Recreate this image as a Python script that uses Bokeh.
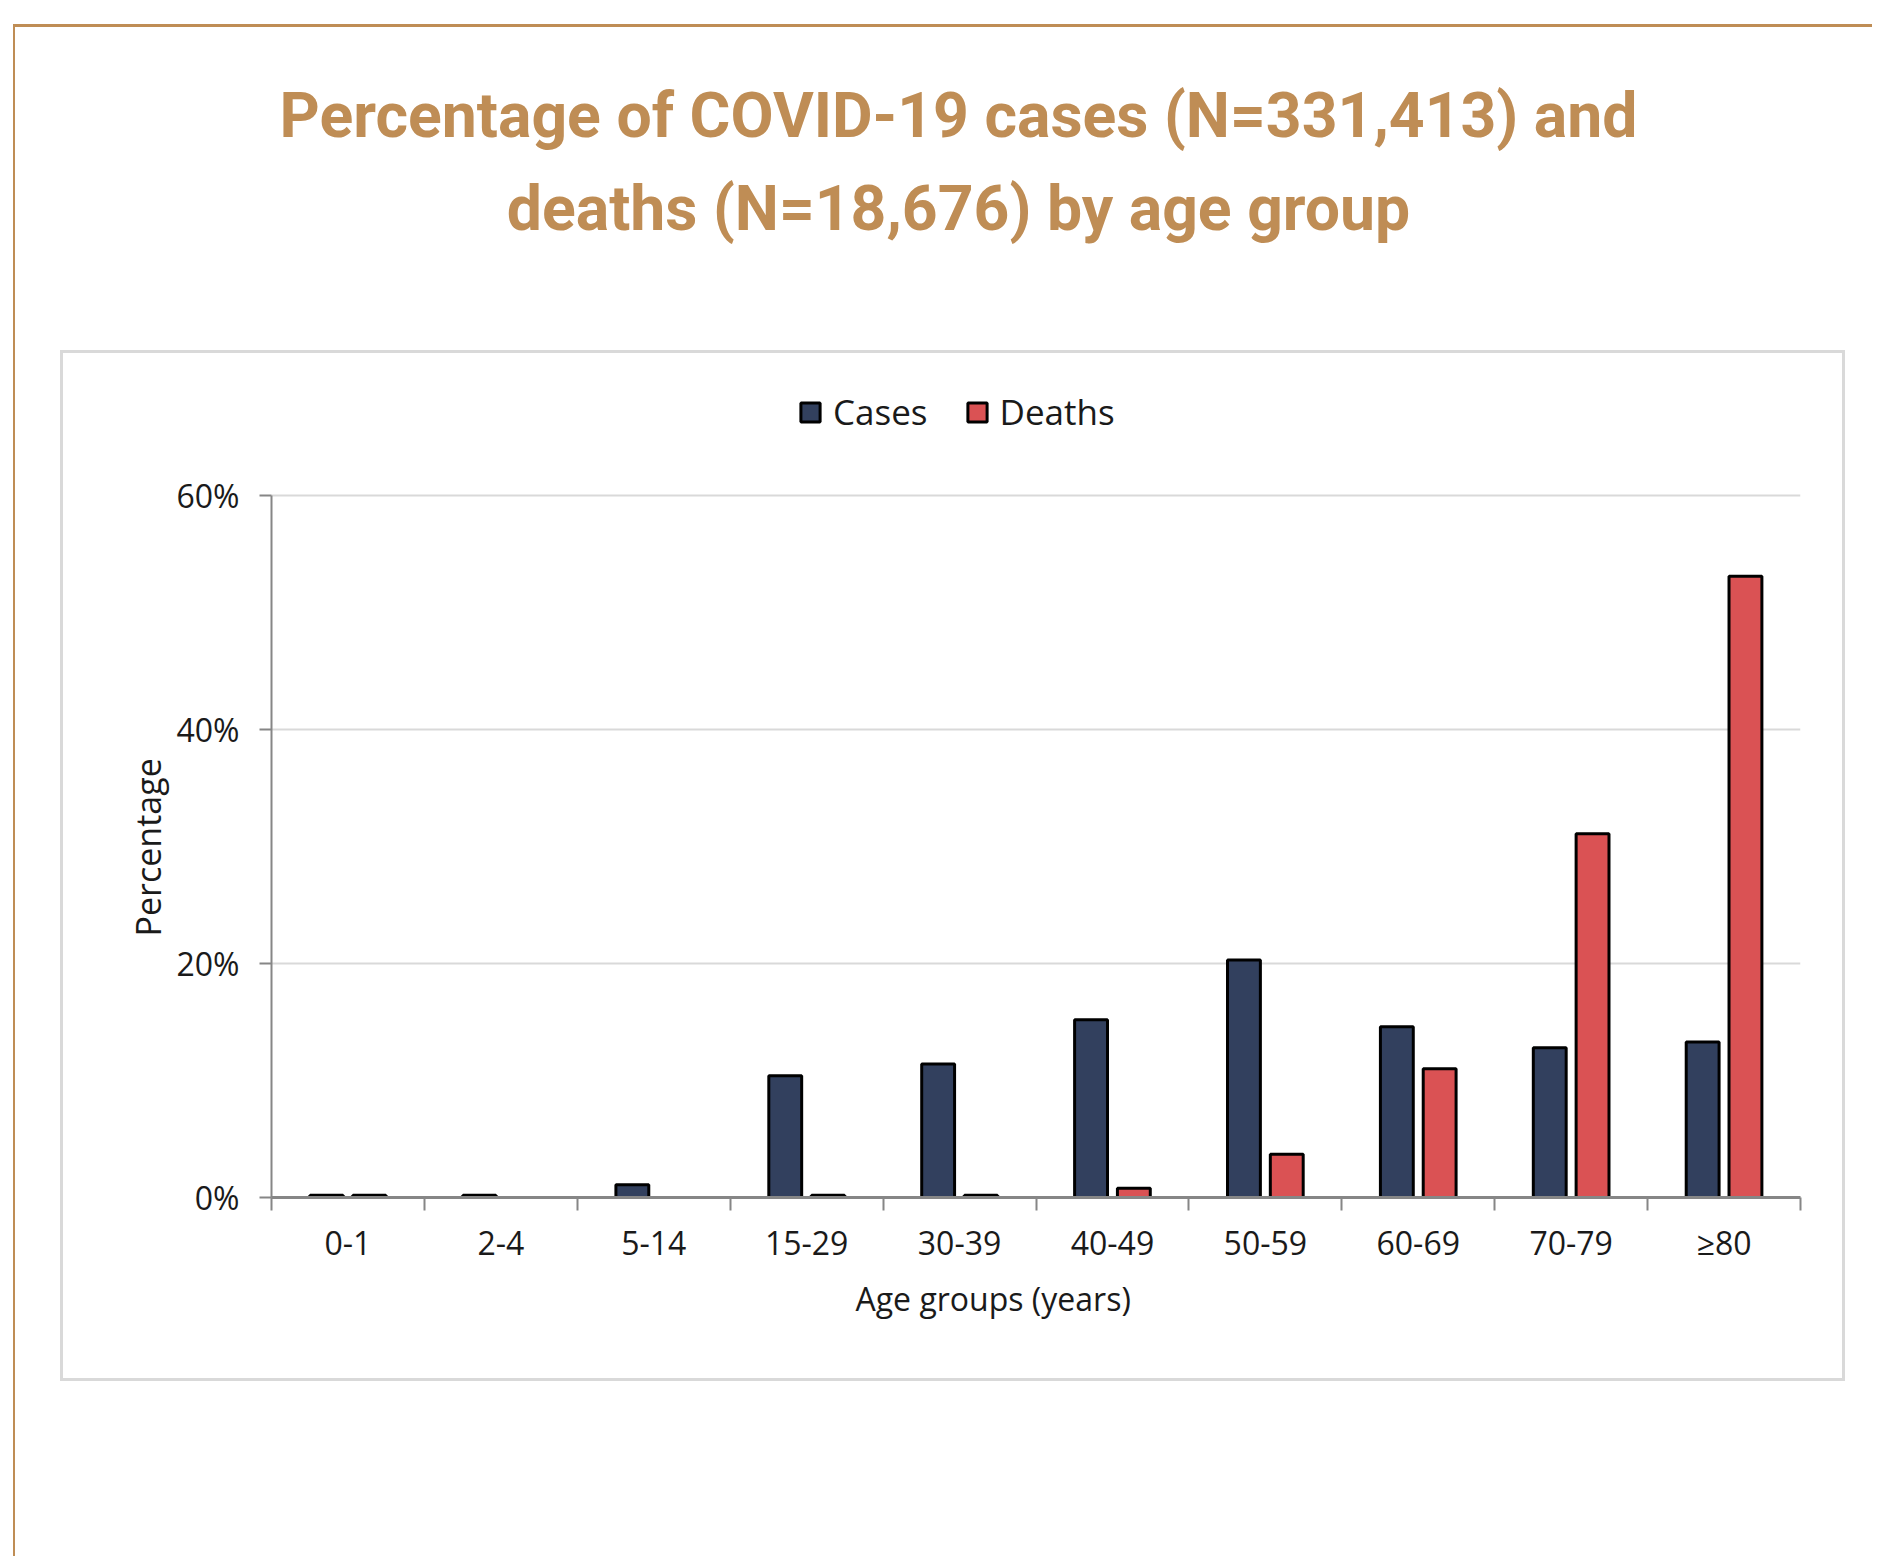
from bokeh.plotting import figure
from bokeh.models import (FactorRange, Range1d, LinearAxis, FixedTicker, Title, Label,
                          Legend, LegendItem, ColumnDataSource, PrintfTickFormatter,
                          InlineStyleSheet)
from bokeh.transform import dodge
from bokeh.embed import file_html
from bokeh.resources import INLINE

# ---- data (percent) ----
ages = ["0-1", "2-4", "5-14", "15-29", "30-39", "40-49", "50-59", "60-69", "70-79", "≥80"]
cases = [0.2, 0.2, 1.1, 10.4, 11.4, 15.2, 20.3, 14.6, 12.8, 13.3]
deaths = [0.2, 0.0, 0.0, 0.2, 0.2, 0.8, 3.7, 11.0, 31.1, 53.1]
y_ticks = [0, 20, 40, 60]
series_names = ["Cases", "Deaths"]
title_lines = ["Percentage of COVID-19 cases (N=331,413) and",
               "deaths (N=18,676) by age group"]
x_title = "Age groups (years)"
y_title = "Percentage"

CASES_COL = "#32405E"
DEATHS_COL = "#DA5254"
TAN = "#BF8D55"
AXIS_COL = "#868686"
GRID_COL = "#D9D9D9"
TXT = "#1a1a1a"

src = ColumnDataSource(dict(age=ages, cases=cases, deaths=deaths))

W, H = 1872, 1556
FL, FR, FT, FB = 271, 1800, 0, 1197   # frame edges in page pixels
Y60_PX = 495                          # page row of the 60% gridline
y_max_view = y_ticks[-1] * (FB - FT) / (FB - Y60_PX)   # headroom for title & legend

p = figure(x_range=FactorRange(factors=ages), y_range=Range1d(0, y_max_view),
           width=W, height=H, output_backend="svg", toolbar_location=None,
           min_border_left=FL, min_border_right=W - FR,
           min_border_top=FT, min_border_bottom=H - FB)
p.outline_line_color = None
p.background_fill_color = "white"
p.border_fill_color = "white"

r_cases = p.vbar(x=dodge("age", -0.14, range=p.x_range), top="cases", width=0.215,
                 source=src, fill_color=CASES_COL, line_color="black", line_width=3)
r_deaths = p.vbar(x=dodge("age", 0.14, range=p.x_range), top="deaths", width=0.215,
                  source=src, fill_color=DEATHS_COL, line_color="black", line_width=3)

# y axis (drawn only over 0..60%)
yax = p.yaxis[0]
yax.ticker = FixedTicker(ticks=y_ticks)
yax.bounds = (y_ticks[0], y_ticks[-1])
yax.formatter = PrintfTickFormatter(format="%d%%")
yax.axis_line_color = AXIS_COL
yax.axis_line_width = 2
yax.major_tick_line_color = AXIS_COL
yax.major_tick_line_width = 2
yax.major_tick_out = 12
yax.major_tick_in = 0
yax.minor_tick_line_color = None
yax.major_label_standoff = 20
yax.major_label_text_font = "Open Sans"
yax.major_label_text_font_size = "32px"
yax.major_label_text_color = TXT

# y axis title as a left-side title, positioned along the 0..60% span
p.add_layout(Title(text=y_title, align="left", offset=261, standoff=6,
                   text_font="Open Sans", text_font_style="normal",
                   text_font_size="34px", text_color=TXT), "left")

p.ygrid.grid_line_color = GRID_COL
p.ygrid.grid_line_width = 2
p.xgrid.visible = False

# x axis: boundary ticks (category edges, synthetic coords 0..N) on a helper axis,
# category labels on the categorical axis
n = len(ages)
tick_axis = LinearAxis(ticker=FixedTicker(ticks=list(range(n + 1))),
                       major_label_overrides={i: "" for i in range(n + 1)})
tick_axis.axis_line_color = AXIS_COL
tick_axis.axis_line_width = 3
tick_axis.major_tick_line_color = AXIS_COL
tick_axis.major_tick_line_width = 2
tick_axis.major_tick_out = 13
tick_axis.major_tick_in = 0
tick_axis.minor_tick_line_color = None
tick_axis.major_label_standoff = 0

cat_axis = p.xaxis[0]
cat_axis.axis_line_color = None
cat_axis.major_tick_line_color = None
cat_axis.minor_tick_line_color = None
cat_axis.major_label_standoff = 4
cat_axis.major_label_text_font = "Open Sans"
cat_axis.major_label_text_font_size = "32px"
cat_axis.major_label_text_color = TXT
p.below = [tick_axis, cat_axis]

# x axis title (a "below" title, left-aligned with an offset so it sits left of centre)
p.add_layout(Title(text=x_title, align="left", offset=584, standoff=17,
                   text_font="Open Sans", text_font_style="normal",
                   text_font_size="32px", text_color=TXT), "below")

# frame-relative screen coords: page X -> X-FL, page Y -> FB-Y
# two-line title
for txt, base in zip(title_lines, [115, 208]):
    p.add_layout(Label(x=958 - FL, y=FB - base, x_units="screen", y_units="screen",
                       text=txt, text_align="center", text_baseline="alphabetic",
                       text_font="Roboto", text_font_style="bold",
                       text_font_size="62.5px", text_color=TAN))

# legend
legend = Legend(items=[LegendItem(label=series_names[0], renderers=[r_cases]),
                       LegendItem(label=series_names[1], renderers=[r_deaths])],
                orientation="horizontal", location=(798 - FL, FB - 435),
                glyph_width=24, glyph_height=24, label_standoff=11, spacing=37,
                padding=0, margin=0, border_line_color=None, background_fill_alpha=0,
                label_text_font="Open Sans", label_text_font_size="35px",
                label_text_color=TXT)
p.add_layout(legend, "center")

# decorative page frames: tan outer border (top/left) and light grey chart box
p.stylesheets = [InlineStyleSheet(css="""
:host::before { content: ""; position: absolute; left: 13px; top: 24px; right: 0; bottom: 0;
  border-top: 3px solid #BF8D55; border-left: 2px solid #BF8D55;
  pointer-events: none; z-index: 5; }
:host::after { content: ""; position: absolute; left: 60px; top: 350px;
  width: 1785px; height: 1031px; box-sizing: border-box;
  border: 3px solid #D9D9D9; pointer-events: none; z-index: 5; }
""")]

open("out.html", "w").write(file_html(p, INLINE))
